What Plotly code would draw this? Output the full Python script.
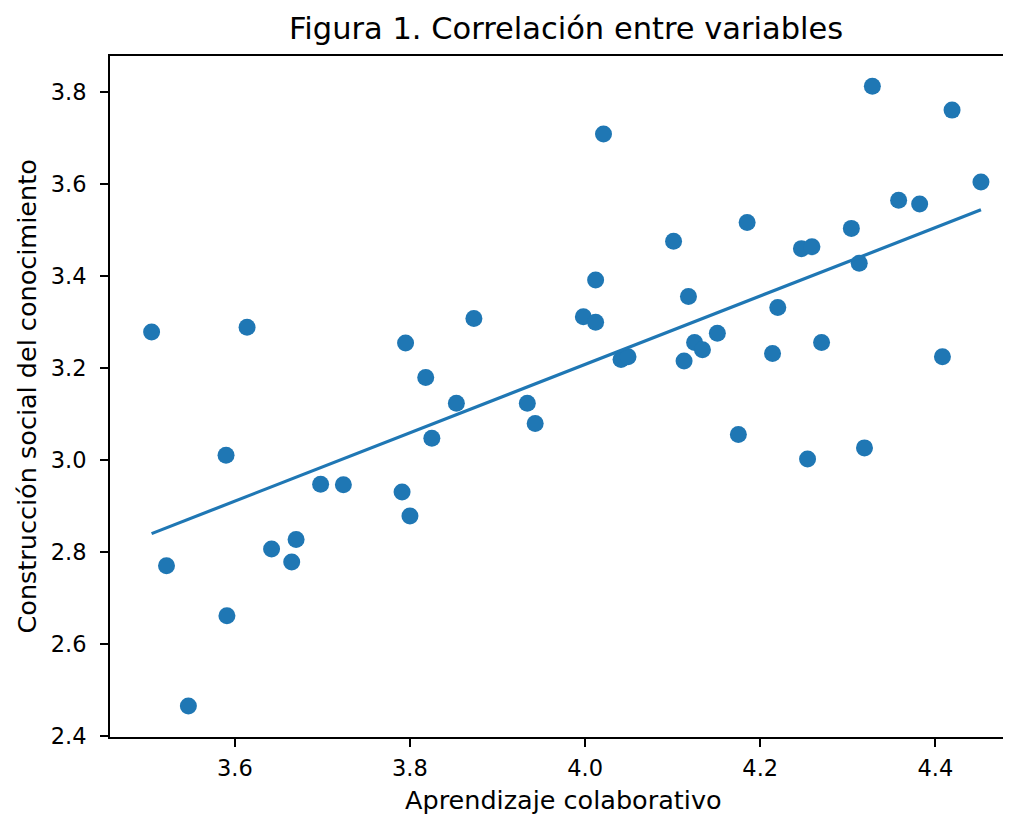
import numpy as np
import plotly.graph_objects as go

aprendizaje = [3.505, 3.614, 3.795, 3.873, 3.818,
               4.021, 4.328, 4.419, 4.452, 4.358, 4.382, 4.304, 4.185, 4.101,
               4.247, 4.259, 4.313, 4.012, 4.118, 3.998, 4.012, 4.220, 4.151,
               4.125, 4.134, 4.041, 4.049, 4.113, 4.214, 4.270, 4.408,
               3.853, 3.934, 3.943, 3.825, 3.590, 3.698, 3.724, 3.791, 3.800,
               3.642, 3.670, 3.665, 3.522, 3.591, 3.547,
               4.175, 4.254, 4.319]
construccion = [3.278, 3.288, 3.254, 3.307, 3.179,
                3.708, 3.812, 3.760, 3.604, 3.564, 3.556, 3.503, 3.516, 3.475,
                3.459, 3.463, 3.427, 3.391, 3.355, 3.311, 3.299, 3.331, 3.275,
                3.255, 3.239, 3.218, 3.224, 3.215, 3.231, 3.255, 3.224,
                3.123, 3.123, 3.079, 3.047, 3.010, 2.947, 2.946, 2.930, 2.878,
                2.806, 2.827, 2.778, 2.770, 2.661, 2.465,
                3.055, 3.002, 3.026]

x_ticks = [3.6, 3.8, 4.0, 4.2, 4.4]
y_ticks = [2.4, 2.6, 2.8, 3.0, 3.2, 3.4, 3.6, 3.8]

xa = np.array(aprendizaje)
ya = np.array(construccion)
m, b = np.polyfit(xa, ya, 1)
xs = np.sort(xa)
ys = m * xs + b

color = "#1f77b4"
OFF = 8  # page body margin
W, H = 1011 - OFF, 815 - OFF
L, R, T, B = 110 - OFF, 0, 56 - OFF, 78
font = "DejaVu Sans"

fig = go.Figure()
fig.add_trace(go.Scatter(x=aprendizaje, y=construccion, mode="markers",
                         marker=dict(color=color, size=17, line=dict(width=0)),
                         showlegend=False))
fig.add_trace(go.Scatter(x=xs, y=ys, mode="lines",
                         line=dict(color=color, width=3.2), showlegend=False))

plot_w = W - L - R
plot_bottom = H - B
fig.add_annotation(text="Figura 1. Correlación entre variables", xref="paper", yref="paper",
                   x=(565.5 - OFF - L) / plot_w, y=1, yshift=56 - 28, showarrow=False,
                   xanchor="center", yanchor="middle",
                   font=dict(family=font, size=30.5, color="#000"))
fig.add_annotation(text="Aprendizaje colaborativo", xref="paper", yref="paper",
                   x=(563.5 - OFF - L) / plot_w, y=0, yshift=-((800 - OFF) - plot_bottom),
                   showarrow=False, xanchor="center", yanchor="middle",
                   font=dict(family=font, size=25.5, color="#000"))
fig.add_annotation(text="Construcción social del conocimiento", xref="paper", yref="paper",
                   x=0, xshift=-(L - (26 - OFF)), y=0.5, showarrow=False, textangle=-90,
                   xanchor="center", yanchor="middle",
                   font=dict(family=font, size=25.5, color="#000"))

axis_common = dict(showgrid=False, zeroline=False, showline=True, linecolor="#000",
                   linewidth=1.8, ticks="outside", ticklen=8, tickwidth=1.8, tickcolor="#000",
                   tickfont=dict(family=font, size=22.5, color="#000"))
fig.update_xaxes(range=[3.4575, 4.4863], tickvals=x_ticks,
                 ticktext=[f"{v:.1f}" for v in x_ticks], mirror=True,
                 ticklabelstandoff=2, **axis_common)
fig.update_yaxes(range=[2.3977, 3.8776], tickvals=y_ticks,
                 ticktext=[f"{v:.1f}" for v in y_ticks], mirror=False,
                 ticklabelstandoff=9, **axis_common)

fig.update_layout(width=W, height=H, margin=dict(l=L, r=R, t=T, b=B, autoexpand=False),
                  paper_bgcolor="white", plot_bgcolor="white",
                  font=dict(family=font))
fig.write_html("out.html")
